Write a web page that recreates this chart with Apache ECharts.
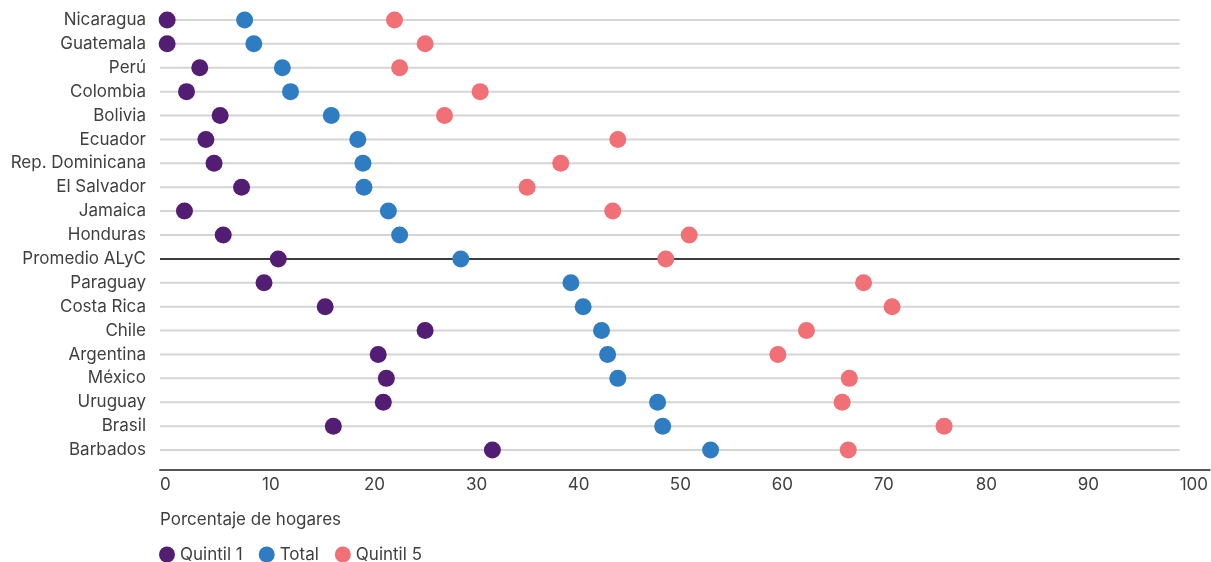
<!DOCTYPE html>
<html>
<head>
<meta charset="utf-8">
<script src="https://cdn.jsdelivr.net/npm/echarts@6/dist/echarts.min.js"></script>
<style>
  html, body { margin: 0; padding: 0; background: #fff; }
  #chart { width: 1211px; height: 562px; }
</style>
</head>
<body>
<div id="chart"></div>
<script>
// Países (de arriba hacia abajo)
const categories = [
  'Nicaragua', 'Guatemala', 'Perú', 'Colombia', 'Bolivia', 'Ecuador',
  'Rep. Dominicana', 'El Salvador', 'Jamaica', 'Honduras', 'Promedio ALyC',
  'Paraguay', 'Costa Rica', 'Chile', 'Argentina', 'México', 'Uruguay',
  'Brasil', 'Barbados'
];

// Porcentaje de hogares por grupo
const quintil1 = [0.7, 0.7, 3.9, 2.6, 5.9, 4.5, 5.3, 8.0, 2.4, 6.2, 11.6,
  10.2, 16.2, 26.0, 21.4, 22.2, 21.9, 17.0, 32.6];
const total = [8.3, 9.2, 12.0, 12.8, 16.8, 19.4, 19.9, 20.0, 22.4, 23.5, 29.5,
  40.3, 41.5, 43.3, 43.9, 44.9, 48.8, 49.3, 54.0];
const quintil5 = [23.0, 26.0, 23.5, 31.4, 27.9, 44.9, 39.3, 36.0, 44.4, 51.9, 49.6,
  69.0, 71.8, 63.4, 60.6, 67.6, 66.9, 76.9, 67.5];

const xTicks = [0, 10, 20, 30, 40, 50, 60, 70, 80, 90, 100];
const averageRow = 'Promedio ALyC';

const COLORS = { q1: '#521d72', total: '#2e7dc2', q5: '#f07075' };
const FONT = 'Inter, "Liberation Sans", sans-serif';
const TEXT = '#3f3f3f';

const chart = echarts.init(document.getElementById('chart'));

// Guide line behind each row, from 0 to 100
function renderRowLine(params, api) {
  const idx = api.value(0);
  const start = api.coord([xTicks[0], idx]);
  const end = api.coord([xTicks[xTicks.length - 1], idx]);
  const isAvg = categories[idx] === averageRow;
  return {
    type: 'line',
    shape: { x1: start[0], y1: start[1], x2: end[0], y2: end[1] },
    style: { stroke: isAvg ? '#3d3d3d' : '#d5d5d5', lineWidth: 2 },
    silent: true
  };
}

const dotSeries = (name, values, color) => ({
  name,
  type: 'scatter',
  data: values.map((v, i) => [v, i]),
  symbol: 'circle',
  symbolSize: 17,
  itemStyle: { color, opacity: 1 },
  z: 5
});

chart.setOption({
  animation: false,
  textStyle: { fontFamily: FONT },
  title: {
    text: 'Porcentaje de hogares',
    left: 155,
    top: 506,
    textStyle: { fontSize: 17, fontWeight: 'normal', color: TEXT, fontFamily: FONT }
  },
  legend: {
    data: ['Quintil 1', 'Total', 'Quintil 5'],
    left: 154,
    top: 541,
    icon: 'circle',
    itemWidth: 16,
    itemHeight: 16,
    itemGap: 16,
    textStyle: { fontSize: 17, color: TEXT, fontFamily: FONT }
  },
  grid: { left: 160, right: 1, top: 8, bottom: 100, containLabel: false },
  xAxis: {
    type: 'value',
    min: 0,
    max: 102.94,
    interval: 10,
    offset: 8,
    axisLine: { show: true, lineStyle: { color: '#555', width: 2 } },
    axisTick: { show: false },
    splitLine: { show: false },
    axisLabel: {
      align: 'left',
      margin: 6,
      fontSize: 17,
      color: TEXT,
      fontFamily: FONT,
      showMaxLabel: false,
      formatter: v => (xTicks.indexOf(v) >= 0 ? String(v) : '')
    }
  },
  yAxis: {
    type: 'category',
    data: categories,
    inverse: true,
    axisLine: { show: false },
    axisTick: { show: false },
    splitLine: { show: false },
    axisLabel: { margin: 14, fontSize: 17, color: TEXT, fontFamily: FONT }
  },
  series: [
    {
      name: 'rows',
      type: 'custom',
      renderItem: renderRowLine,
      data: categories.map((c, i) => [i]),
      encode: { y: 0 },
      silent: true,
      z: 1
    },
    dotSeries('Quintil 1', quintil1, COLORS.q1),
    dotSeries('Total', total, COLORS.total),
    dotSeries('Quintil 5', quintil5, COLORS.q5)
  ]
});
</script>
</body>
</html>
